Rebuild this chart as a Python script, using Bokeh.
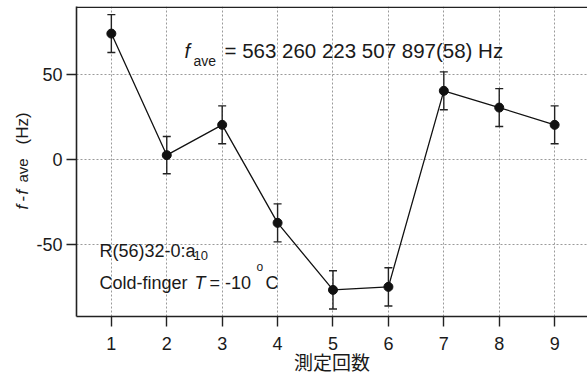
import math
from bokeh.plotting import figure
from bokeh.layouts import row
from bokeh.models import (ColumnDataSource, FixedTicker, Label, Whisker, TeeHead, Range1d, Span)
from bokeh.embed import file_html
from bokeh.resources import INLINE

# ---- data ----
runs = [1, 2, 3, 4, 5, 6, 7, 8, 9]
delta_f = [74.4, 2.6, 20.5, -37.4, -77.0, -75.2, 40.6, 30.7, 20.5]
delta_err = [11.2, 11.0, 11.2, 11.2, 11.3, 11.3, 11.2, 11.2, 11.2]
x_ticks = [1, 2, 3, 4, 5, 6, 7, 8, 9]
y_ticks = [-50, 0, 50]
y_tick_labels = {-50: "-50", 0: "0", 50: "50"}
x_title = "測定回数"

FONT = "Liberation Sans"
TXT = "#1a1a1a"
AX = "#222222"

Y0, Y1 = -92.7, 90.4
X0, X1 = 0.371, 9.593

src = ColumnDataSource(data=dict(
    x=runs, y=delta_f,
    upper=[v + e for v, e in zip(delta_f, delta_err)],
    lower=[v - e for v, e in zip(delta_f, delta_err)],
))

LW = 33  # width of the strip holding the y-axis title
p = figure(width=587 - LW, height=377, output_backend="svg", toolbar_location=None,
           x_range=Range1d(X0, X1), y_range=Range1d(Y0, Y1),
           min_border_left=74 - LW, min_border_right=0, min_border_top=6, min_border_bottom=61)
p.outline_line_color = None
p.background_fill_color = "white"
p.border_fill_color = "white"

# axes
for ax in (p.xaxis[0], p.yaxis[0]):
    ax.axis_line_color = AX
    ax.axis_line_width = 1.6
    ax.major_tick_line_color = AX
    ax.major_tick_line_width = 1.4
    ax.major_tick_out = 10
    ax.major_tick_in = 0
    ax.minor_tick_line_color = None
    ax.major_label_text_font = FONT
    ax.major_label_text_font_size = "18px"
    ax.major_label_text_color = TXT
p.yaxis.axis_label = None
p.xaxis.ticker = FixedTicker(ticks=x_ticks)
p.yaxis.ticker = FixedTicker(ticks=y_ticks)
p.yaxis.major_label_overrides = y_tick_labels
p.xaxis.major_label_standoff = 10
p.yaxis.major_label_standoff = 4
p.xaxis.axis_label = x_title
p.xaxis.axis_label_text_font = "Noto Sans CJK JP"
p.xaxis.axis_label_text_font_size = "19px"
p.xaxis.axis_label_text_font_style = "normal"
p.xaxis.axis_label_text_color = TXT
p.xaxis.axis_label_standoff = -5

# grid
for g in (p.xgrid[0], p.ygrid[0]):
    g.grid_line_color = "#9a9a9a"
    g.grid_line_dash = "2 2"
    g.grid_line_width = 1
p.xgrid.ticker = FixedTicker(ticks=x_ticks)
p.ygrid.ticker = FixedTicker(ticks=y_ticks)

# top frame line
p.add_layout(Span(location=Y1 - 0.4, dimension="width", line_color=AX, line_width=1.6))

# error bars
wh = Whisker(source=src, base="x", upper="upper", lower="lower",
             line_color=AX, line_width=1.4,
             upper_head=TeeHead(size=8, line_color=AX, line_width=1.4),
             lower_head=TeeHead(size=8, line_color=AX, line_width=1.4))
p.add_layout(wh)

p.line("x", "y", source=src, line_color="#111111", line_width=1.3)
p.scatter("x", "y", source=src, size=9, fill_color="#111111", line_color="#111111")

# frame origin (absolute page px) for placing text inside the frame
FL, FB = 74, 316


def lab(fig, ox, oy, text, ax_, ay_, size, style="normal", angle=0.0, align="left",
        baseline="alphabetic", font=FONT):
    fig.add_layout(Label(x=ax_ - ox, y=oy - ay_, x_units="screen", y_units="screen",
                         text=text, text_font=font, text_font_size=size,
                         text_font_style=style, text_color=TXT, angle=angle,
                         text_align=align, text_baseline=baseline))


# top annotation
lab(p, FL, FB, "f", 182, 50, "20px", "italic")
lab(p, FL, FB, "ave", 191, 60, "14px")
lab(p, FL, FB, "= 563 260 223 507 897(58) Hz", 222, 50, "20.5px")

# lower-left annotation
lab(p, FL, FB, "R(56)32-0:a", 97, 250, "18px")
lab(p, FL, FB, "10", 191, 255, "13px")
lab(p, FL, FB, "Cold-finger", 97, 282, "18px")
lab(p, FL, FB, "T", 192, 282, "18px", "italic")
lab(p, FL, FB, "= -10", 207, 282, "18px")
lab(p, FL, FB, "o", 254, 266, "12px")
lab(p, FL, FB, "C", 263, 282, "18px")

# y-axis title strip (its frame is aligned with the main frame: top 6, bottom 316)
q = figure(width=LW, height=377, output_backend="svg", toolbar_location=None,
           x_range=Range1d(0, 1), y_range=Range1d(0, 1),
           x_axis_type=None, y_axis_type=None,
           min_border_left=0, min_border_right=0, min_border_top=6, min_border_bottom=61)
q.outline_line_color = None
q.grid.visible = False
q.background_fill_color = "white"
q.border_fill_color = "white"

R = math.pi / 2
lab(q, 0, FB, "f", 21.5, 209, "17px", "italic", angle=R)
lab(q, 0, FB, "-", 21.5, 201, "17px", angle=R)
lab(q, 0, FB, "f", 21.5, 194, "17px", "italic", angle=R)
lab(q, 0, FB, "ave", 22, 182, "15px", angle=R, baseline="middle")
lab(q, 0, FB, "(Hz)", 21.5, 144, "17px", angle=R)

layout = row(q, p, spacing=0)
open("out.html", "w").write(file_html(layout, INLINE))
